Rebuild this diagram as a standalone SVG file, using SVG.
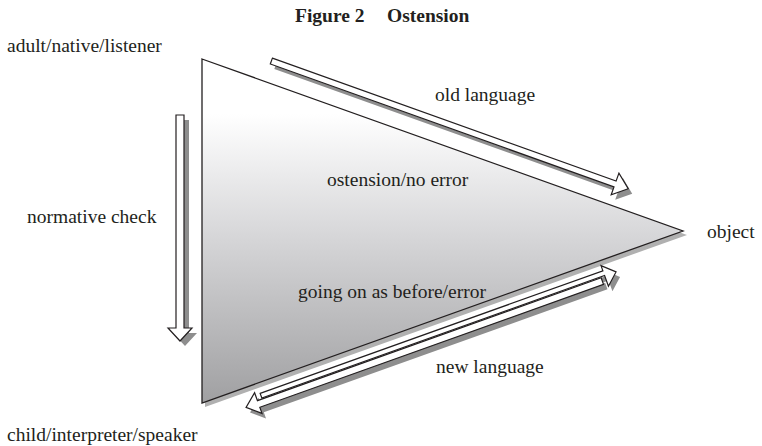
<svg xmlns="http://www.w3.org/2000/svg" width="762" height="446" viewBox="0 0 762 446">
  <style>
    .t { font-family: "Liberation Serif", "Times New Roman", serif; font-size: 19.5px; fill: #231f20; }
    .title { font-weight: bold; }
    .arrow { fill: #ffffff; stroke: #231f20; stroke-width: 1.2; stroke-linejoin: miter; }
    .shadow { fill: #8e8e8e; stroke: none; }
  </style>
  <defs>
    <linearGradient id="triGrad" gradientUnits="userSpaceOnUse" x1="0" y1="59" x2="0" y2="403">
      <stop offset="0" stop-color="#ffffff"/>
      <stop offset="0.16" stop-color="#ffffff"/>
      <stop offset="0.5" stop-color="#d8d8da"/>
      <stop offset="1" stop-color="#a0a0a2"/>
    </linearGradient>
    <path id="topArrow" d="M66,-24.5 L431,-24.5 L431,-33 L445,-21.4 L431,-10 L431,-18.3 L66,-18.3 Z"/>
    <path id="bottomA" d="M58,10.5 L422,10.5 L422,5 L434,16 L422,27 L422,15.5 L58,15.5 Z"/>
    <path id="bottomB" d="M418,16.5 L53,16.5 L53,8 L40,19 L53,30 L53,23.5 L418,23.5 Z"/>
    <path id="vertArrow" d="M176,115 L184,115 L184,328 L192,328 L180,341 L168,328 L176,328 Z"/>
  </defs>

  <g id="title">
    <text class="t title" x="295" y="22">Figure 2</text>
    <text class="t title" x="387" y="22">Ostension</text>
  </g>

  <g id="triangle">
    <polygon points="205,63 687,235 205,407" fill="#b0b0b0"/>
    <polygon points="202,59 683,231 202,403" fill="url(#triGrad)" stroke="#231f20" stroke-width="1.3" stroke-linejoin="miter"/>
  </g>

  <g id="node-adult">
    <text class="t" x="7" y="52">adult/native/listener</text>
  </g>
  <g id="node-child">
    <text class="t" x="7" y="441">child/interpreter/speaker</text>
  </g>
  <g id="node-object">
    <text class="t" x="707" y="238">object</text>
  </g>

  <g id="connectors">
    <g id="old-language-arrow">
      <g transform="translate(4,5)"><use href="#topArrow" class="shadow" transform="translate(202,59) rotate(19.68)"/></g>
      <use href="#topArrow" class="arrow" transform="translate(202,59) rotate(19.68)"/>
    </g>
    <g id="normative-check-arrow">
      <use href="#vertArrow" class="shadow" transform="translate(5,5)"/>
      <use href="#vertArrow" class="arrow"/>
    </g>
    <g id="new-language-arrows">
      <g transform="translate(4,5)">
        <use href="#bottomA" class="shadow" transform="translate(202,403) rotate(-19.68)"/>
        <use href="#bottomB" class="shadow" transform="translate(202,403) rotate(-19.68)"/>
      </g>
      <use href="#bottomB" class="arrow" transform="translate(202,403) rotate(-19.68)"/>
      <use href="#bottomA" class="arrow" transform="translate(202,403) rotate(-19.68)"/>
    </g>
  </g>

  <g id="labels">
    <text class="t" x="435" y="101">old language</text>
    <text class="t" x="327" y="186">ostension/no error</text>
    <text class="t" x="27" y="223">normative check</text>
    <text class="t" x="298" y="298">going on as before/error</text>
    <text class="t" x="436" y="373">new language</text>
  </g>
</svg>
